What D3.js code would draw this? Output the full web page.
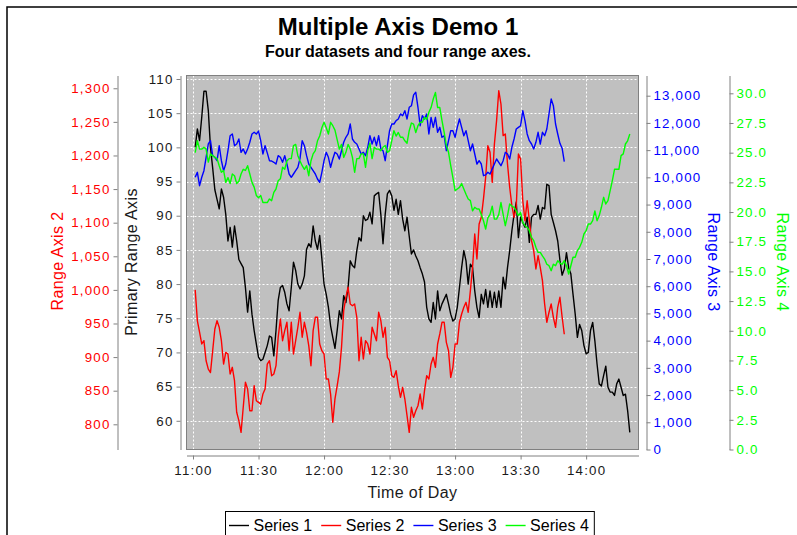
<!DOCTYPE html>
<html>
<head>
<meta charset="utf-8">
<script src="https://cdn.jsdelivr.net/npm/d3@7"></script>
<style>
body { margin: 0; background: #fff; }
text { font-family: "Liberation Sans", Arial, sans-serif; }
</style>
</head>
<body>
<svg id="chart"></svg>
<script>
var seriesNames = ["Series 1", "Series 2", "Series 3", "Series 4"];
var seriesColors = ["#000000", "#ff0000", "#0000ff", "#00ff00"];
var startTime = "11:01";   // one value per minute from here

var s1 = [100,102.7,101,104.4,108.2,108.2,105.4,100,97,93.8,
92.4,91,93.9,92.7,90.2,86.3,88.3,85.4,88.5,86.3,
83.6,83,82.4,79.5,75.9,79,75.6,73.2,71.2,69.3,
68.8,69,70,71,72.4,72.2,69.5,73.2,77.6,79.5,
79.8,78.8,77.1,76.1,79.5,83.2,82,80,79.3,80,
81.2,85.1,85.9,85.4,88.5,86.3,85.1,87.1,83.7,80,
78.5,76.6,73.9,72.2,70.6,73.2,76.1,74.9,78.3,77.3,
79.5,83.4,82.7,82.4,84.9,86.8,86.3,90,89.3,89.5,
90.5,88.8,92.9,93.2,93.4,90.2,85.9,90.2,93.2,93.7,
92.9,90.8,92.4,90.2,92.2,89.5,87.8,89.8,87,84.4,
85,84.1,83.4,82.4,81.5,80.3,76.6,74.9,74.4,77.3,
74.9,79,76.1,77.1,77.8,78.5,77.1,75.6,74.6,74.9,
76.6,79.5,82.4,84.9,83.4,80,82.9,82.4,79,76.6,
75.1,78.5,77.1,79.2,76.6,79,76.6,78.8,76.6,79,
76.6,81,79.3,82.4,84.9,87.8,90.2,92,86.8,89.8,
89,88.3,89.8,86.1,89.8,90.2,90.2,91.5,89.5,91.2,
91,94.6,94.4,90.2,89,87.8,86.3,83.5,81.3,82.2,
84.6,82.4,81.5,78.5,75.6,72.2,74.1,73.2,71,69.8,
70,73.2,74.4,71.7,68.3,65.4,65.1,66.6,68,64.9,
64.2,64.2,63.7,65.4,66.1,64.9,63.7,63.9,61.5,58.3];

var s2 = [1000,954,937,919.5,924.4,894.6,882,877,909.5,941.8,
954.2,944.3,924.4,889.7,907,904.6,874.9,884.8,864.9,817.9,
805.4,788,825.3,862.5,852.5,820.2,820.2,857.4,835.1,832.7,
830,845,852.5,889.7,894.6,872.3,874.9,887.2,929.5,956.7,
924.4,939.3,951.8,909.5,951.8,904.6,924.4,944.3,966.7,929.5,
951.8,936.9,917,887.2,939.3,959.2,959.2,919.5,909.5,904.6,
867.4,867.4,845,803,838,857,878,914.6,969,989,
1003.9,979,976.5,979,959.2,894.6,929.5,897.2,924.4,919.5,
904.6,944.3,934.4,924.4,966.7,954.2,929.5,944.3,899.7,894.6,
872.3,869.9,879.8,857.4,840.2,855,837.6,812.8,788,825.3,
810.4,820.2,827.6,845,822.8,850,872.3,867.4,889.7,899.7,
884.8,919.5,934.4,951.8,951.8,922,909.5,869.9,884.8,919.5,
919.5,951.8,964.1,974.1,981.5,966.7,998.8,1033.6,1083.2,1046,
1098,1108,1135.3,1167.6,1214.6,1204.8,1160,1217,1251.8,1296.4,
1276.6,1229.5,1232,1187.4,1152.7,1125.3,1108,1122.9,1202.2,1194.8,
1132.7,1103,1132.7,1103,1073.2,1058.3,1031.1,1050.9,1033.6,1013.7,
979,951.8,966.7,979,959.2,944.3,974.1,989,960,934];

var s3 = [10000,10186,9693,10002,10244,10737,11225,11347,10796,10737,
10612,11163,10612,10244,10490,10979,11530,11593,11163,11225,
11409,10920,11042,10858,11042,11288,11593,11655,11593,11700,
11347,10858,11163,10900,10612,10600,10553,10490,10796,10737,
10553,10796,10490,10123,10002,10123,10244,10369,10700,11347,
11163,10796,10490,10369,10244,10123,9939,9818,10186,10612,
10920,10737,10369,10674,10920,10858,10674,10979,11288,11472,
11593,11960,11409,11288,11225,11042,10858,10920,10796,11104,
11530,11225,11472,11163,11530,11042,10979,10612,11163,11714,
11960,11960,12082,12144,12328,12266,12449,12144,12574,12630,
13030,13125,12574,11898,12266,12144,12328,11593,12205,11838,
12205,11655,11838,11472,11530,10979,11347,11714,11714,11472,
11838,12144,11838,11530,11714,11347,10979,11225,10858,10490,
10612,10490,10061,10090,10186,10123,10307,10490,10674,10553,
10429,10612,10920,10858,10674,11104,11409,11777,11838,11898,
12449,12082,11593,11347,11225,11042,11288,11655,11225,11655,
11530,11777,12328,12879,12633,11960,11593,11250,11070,10580];

var s4 = [25,26,25.3,25.3,25.45,25.3,24.2,24.9,24.75,24.6,
24.5,23.9,23.35,23.5,22.5,22.9,22.4,23.2,23.06,22.4,
22.6,23.2,23.6,23.5,23.9,23.2,22.5,22.1,21.4,21.2,
21.4,20.8,20.8,20.8,21.1,20.96,21.66,21.94,22.64,22.8,
23.77,23.6,24.3,24.5,24.5,25.6,25.7,24.75,24.3,23.9,
23.6,23.9,23.06,24.3,24.9,25.17,26,26.4,27.1,27.56,
27.1,26.57,27.56,27.27,26.9,26.1,25.3,25.7,24.6,25.03,
25.7,25.3,24.6,23.35,24.5,24.5,24.9,24.9,23.77,25.17,
25.8,24.5,25.45,25.3,25.3,25.17,25.45,25.6,25.03,25.17,
26,26.85,26.4,26.7,26.3,26.3,26,25.8,26.85,27.5,
27.4,26.7,27.27,27.56,27.56,27.98,27.8,28.4,28.8,29.52,
30.08,28.8,28.8,27.7,26.7,25.6,25.03,23.9,22.9,21.8,
21.94,22.08,22.4,21.94,21.5,21.1,20.96,20.1,20.4,20.26,
20.26,19.8,19.27,18.57,19.5,19.8,20.5,19.4,19.4,19.8,
20.8,19.8,18.85,19.7,20.68,20.5,20.4,20.1,19.7,19.98,
19.13,18.85,18.7,18.43,17.87,17.6,17.03,16.6,16.6,16.3,
16.04,15.6,15.48,15.06,15.6,15.48,15.9,15.7,15.6,15.9,
15.48,14.78,15.48,16.19,16.19,16.75,17.03,17.45,18.15,18.43,
18.99,18.99,19.27,20.1,19.27,19.7,20.4,21.24,20.68,20.96,
21.8,22.64,23.6,23.6,23.6,24.75,24.9,25.73,26,26.57];

var primaryTicks = [60, 65, 70, 75, 80, 85, 90, 95, 100, 105, 110];
var axis2Ticks = [800, 850, 900, 950, 1000, 1050, 1100, 1150, 1200, 1250, 1300];
var axis3Ticks = [0, 1000, 2000, 3000, 4000, 5000, 6000, 7000, 8000, 9000, 10000, 11000, 12000, 13000];
var axis4Ticks = [0, 2.5, 5, 7.5, 10, 12.5, 15, 17.5, 20, 22.5, 25, 27.5, 30];
var timeTicks = ["11:00", "11:30", "12:00", "12:30", "13:00", "13:30", "14:00"];

var width = 797, height = 535;
var plot = {left: 186.5, right: 638.5, top: 75.5, bottom: 449.5};
var textDark = "#1a1a1a";

var parseTime = d3.timeParse("%H:%M");
var t0 = parseTime(startTime);
function minutesFrom(t, m) { return new Date(t.getTime() + m * 60000); }
function toPoints(arr) {
    return arr.map(function(v, i) { return {t: minutesFrom(t0, i), v: v}; });
}

var svg = d3.select("#chart")
    .attr("width", width)
    .attr("height", height);

svg.append("rect")
    .attr("width", width)
    .attr("height", height)
    .attr("fill", "white");

// panel border (only top and left edges fall inside the picture)
svg.append("rect")
    .attr("x", 7).attr("y", 7)
    .attr("width", 820).attr("height", 560)
    .attr("fill", "none")
    .attr("stroke", "#000")
    .attr("stroke-width", 1.5);

var x = d3.scaleTime()
    .domain([minutesFrom(t0, -3.98), minutesFrom(t0, 202.98)])
    .range([plot.left, plot.right]);

var y1 = d3.scaleLinear().domain([55.8, 110.51]).range([plot.bottom, plot.top]);
var y2 = d3.scaleLinear().domain([762.5, 1319]).range([plot.bottom, plot.top]);
var y3 = d3.scaleLinear().domain([0, 13742]).range([plot.bottom, plot.top]);
var y4 = d3.scaleLinear().domain([0, 31.5]).range([plot.bottom, plot.top]);

// plot background
svg.append("rect")
    .attr("x", plot.left).attr("y", plot.top)
    .attr("width", plot.right - plot.left)
    .attr("height", plot.bottom - plot.top)
    .attr("fill", "#c0c0c0");

var grid = svg.append("g");
grid.selectAll(".hg")
    .data(primaryTicks)
    .enter().append("line")
        .attr("x1", plot.left).attr("x2", plot.right)
        .attr("y1", d => Math.round(y1(d)) + 0.5)
        .attr("y2", d => Math.round(y1(d)) + 0.5)
        .attr("stroke", "#fff")
        .attr("stroke-dasharray", "2,2");
grid.selectAll(".vg")
    .data(timeTicks)
    .enter().append("line")
        .attr("y1", plot.top).attr("y2", plot.bottom)
        .attr("x1", d => Math.round(x(parseTime(d))) + 0.5)
        .attr("x2", d => Math.round(x(parseTime(d))) + 0.5)
        .attr("stroke", "#fff")
        .attr("stroke-dasharray", "2,2");

svg.append("clipPath").attr("id", "clip")
    .append("rect")
    .attr("x", plot.left).attr("y", plot.top)
    .attr("width", plot.right - plot.left)
    .attr("height", plot.bottom - plot.top);

var allSeries = [
    {data: s1, y: y1},
    {data: s2, y: y2},
    {data: s3, y: y3},
    {data: s4, y: y4}
];

var lines = svg.append("g").attr("clip-path", "url(#clip)");
allSeries.forEach(function(s, i) {
    var line = d3.line()
        .x(d => x(d.t))
        .y(d => s.y(d.v));
    lines.append("path")
        .datum(toPoints(s.data))
        .attr("fill", "none")
        .attr("stroke", seriesColors[i])
        .attr("stroke-width", 1.4)
        .attr("stroke-linejoin", "round")
        .attr("d", line);
});

// plot outline
svg.append("rect")
    .attr("x", plot.left).attr("y", plot.top)
    .attr("width", plot.right - plot.left)
    .attr("height", plot.bottom - plot.top)
    .attr("fill", "none")
    .attr("stroke", "#808080");

function styleAxis(g, color) {
    g.select(".domain").attr("stroke", "#808080");
    g.selectAll(".tick line").attr("stroke", "#808080");
    g.selectAll(".tick text")
        .attr("fill", color)
        .style("font-size", "13.3px")
        .style("letter-spacing", "1.2px");
}

var fmtComma = d3.format(",");
var fmt1 = d3.format(".1f");

svg.append("g")
    .attr("transform", "translate(180.5,0)")
    .call(d3.axisLeft(y1).tickValues(primaryTicks).tickSize(4).tickSizeOuter(0).tickPadding(3))
    .call(g => styleAxis(g, textDark));

svg.append("g")
    .attr("transform", "translate(117.5,0)")
    .call(d3.axisLeft(y2).tickValues(axis2Ticks).tickFormat(fmtComma).tickSize(4).tickSizeOuter(0).tickPadding(3))
    .call(g => styleAxis(g, "#ff0000"));

svg.append("g")
    .attr("transform", "translate(646.5,0)")
    .call(d3.axisRight(y3).tickValues(axis3Ticks).tickFormat(fmtComma).tickSize(4).tickSizeOuter(0).tickPadding(3))
    .call(g => styleAxis(g, "#0000ff"));

svg.append("g")
    .attr("transform", "translate(729.5,0)")
    .call(d3.axisRight(y4).tickValues(axis4Ticks).tickFormat(fmt1).tickSize(4).tickSizeOuter(0).tickPadding(3))
    .call(g => styleAxis(g, "#00ff00"));

svg.append("g")
    .attr("transform", "translate(0,455.5)")
    .call(d3.axisBottom(x).tickValues(timeTicks.map(parseTime)).tickFormat(d3.timeFormat("%H:%M"))
        .tickSize(4).tickSizeOuter(0).tickPadding(6))
    .call(g => styleAxis(g, textDark));

// axis titles
function axisTitle(label, cx, cy, rot, color) {
    svg.append("text")
        .attr("transform", "translate(" + cx + "," + cy + ") rotate(" + rot + ")")
        .attr("text-anchor", "middle")
        .attr("dy", "0.35em")
        .attr("fill", color)
        .style("font-size", "16px")
        .style("letter-spacing", "0.4px")
        .text(label);
}
axisTitle("Range Axis 2", 57, 261, -90, "#ff0000");
axisTitle("Primary Range Axis", 131, 262, -90, textDark);
axisTitle("Range Axis 3", 714, 262, 90, "#0000ff");
axisTitle("Range Axis 4", 782.5, 262, 90, "#00ff00");
axisTitle("Time of Day", 412.5, 492, 0, textDark);

// titles
svg.append("text")
    .attr("x", 398).attr("y", 34.5)
    .attr("text-anchor", "middle")
    .style("font-size", "24px")
    .style("font-weight", "bold")
    .text("Multiple Axis Demo 1");

svg.append("text")
    .attr("x", 398).attr("y", 56.5)
    .attr("text-anchor", "middle")
    .style("font-size", "16px")
    .style("font-weight", "bold")
    .text("Four datasets and four range axes.");

// legend
var legend = svg.append("g");
var legendBox = legend.append("rect")
    .attr("y", 511.5)
    .attr("height", 40)
    .attr("fill", "white")
    .attr("stroke", "#000");
var cursor = 0;
seriesNames.forEach(function(name, i) {
    legend.append("line")
        .attr("x1", cursor + 4).attr("x2", cursor + 24)
        .attr("y1", 525.5).attr("y2", 525.5)
        .attr("stroke", seriesColors[i])
        .attr("stroke-width", 1.4);
    var t = legend.append("text")
        .attr("x", cursor + 28.5)
        .attr("y", 531)
        .attr("fill", "#000")
        .style("font-size", "16px")
        .text(name);
    cursor += 28.5 + t.node().getComputedTextLength() + 5;
});
var legendW = cursor;
var legendX = 409.5 - legendW / 2;
legendBox.attr("x", 0.5).attr("width", legendW);
legend.attr("transform", "translate(" + Math.round(legendX) + ",0)");
</script>
</body>
</html>
